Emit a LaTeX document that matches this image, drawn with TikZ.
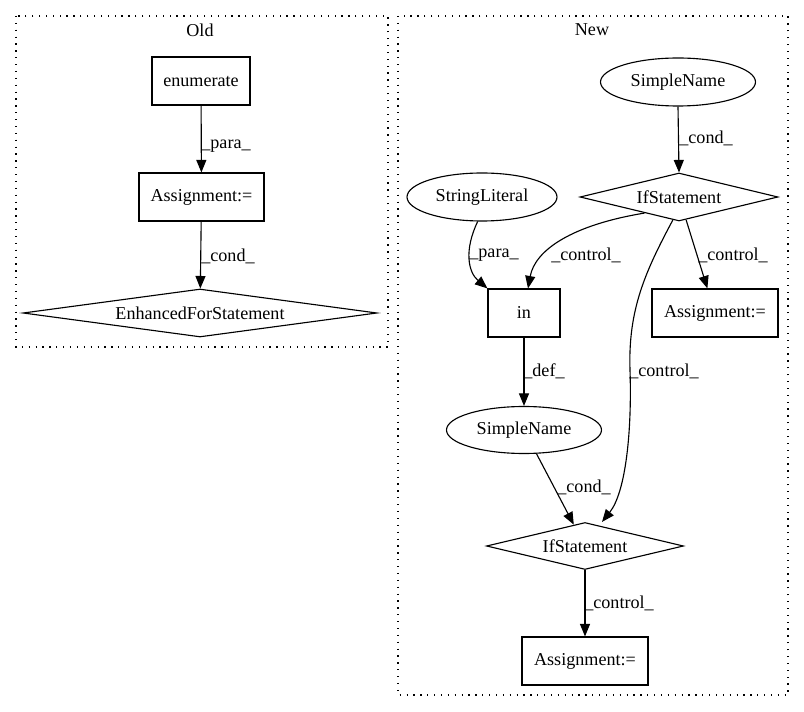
\documentclass[tikz,border=0pt]{standalone}
\usepackage{fontspec}
\setmainfont{Liberation Serif}
\usetikzlibrary{arrows.meta,shapes.geometric}
\def\pxu{0.8pt}
\tikzset{
  every node/.style={font=\fontsize{14.5}{16}\selectfont},
  boxnode/.style={draw, line width=0.9pt, inner sep=0pt, rectangle, minimum height=48*\pxu},
  ellnode/.style={draw, line width=0.9pt, inner sep=0pt, ellipse, minimum height=48*\pxu},
  dianode/.style={draw, line width=0.9pt, inner sep=0pt, diamond, minimum height=48*\pxu},
  edge/.style={line width=0.9pt, -{Triangle[length=10pt, width=8pt]}},
  cluster/.style={line width=0.9pt, dash pattern=on 1pt off 4.5pt},
  lbl/.style={inner sep=0pt}
}
\begin{document}
\begin{tikzpicture}[x=0.8pt, y=-0.8pt]
\useasboundingbox (0,0) rectangle (804,712);
% clusters
\draw[cluster] (16,16) rectangle (388,347);
\draw[cluster] (398,16) rectangle (788,695);
\node[lbl] (oldt) at (200,30) {Old};
\node[lbl] (newt) at (592,30) {New};
% Old nodes
\node[boxnode, minimum width=98*\pxu] (en) at (201,81) {enumerate};
\node[boxnode, minimum width=125*\pxu] (as1) at (201.5,197) {Assignment:=};
\node[dianode, aspect=7.375, minimum width=354*\pxu] (efs) at (200,313) {EnhancedForStatement};
% New nodes
\node[ellnode, minimum width=155*\pxu] (sn1) at (678,82) {SimpleName};
\node[dianode, aspect=4.125, minimum width=198*\pxu] (if1) at (679,197) {IfStatement};
\node[ellnode, minimum width=150*\pxu] (sl) at (482,197) {StringLiteral};
\node[boxnode, minimum width=72*\pxu] (in) at (524,313) {in};
\node[boxnode, minimum width=126*\pxu] (as2) at (715,313) {Assignment:=};
\node[ellnode, minimum width=155*\pxu, minimum height=47*\pxu] (sn2) at (524,430) {SimpleName};
\node[dianode, aspect=4.19, minimum width=197*\pxu, minimum height=47*\pxu] (if2) at (585,546) {IfStatement};
\node[boxnode, minimum width=126*\pxu] (as3) at (585,661) {Assignment:=};
% Old edges
\draw[edge] (en) -- (as1);
\draw[edge] (as1) -- (efs);
\node[lbl] (l1) at (226,146) {\_para\_};
\node[lbl] (l2) at (228,256) {\_cond\_};
% New edges
\draw[edge] (sn1.south) -- (if1.north);
\node[lbl] (l3) at (706,138) {\_cond\_};
\draw[edge] (sl.260) .. controls (464,250) and (468,272) .. (in.north west);
\node[lbl] (l4) at (494,255) {\_para\_};
\draw[edge] (if1.205) .. controls (572,225) and (535,250) .. ([xshift=4*\pxu]in.north);
\node[lbl] (l5) at (586,255) {\_control\_};
\draw[edge] (if1) -- (as2);
\node[lbl] (l6) at (733,255) {\_control\_};
\draw[edge] (if1.255) .. controls (645,272) and (628,310) .. (630,370) .. controls (632,430) and (626,492) .. ([xshift=17*\pxu]if2.north);
\node[lbl] (l7) at (664,371) {\_control\_};
\draw[edge] (in) -- (sn2);
\node[lbl] (l8) at (544,371) {\_def\_};
\draw[edge] (sn2) -- (if2);
\node[lbl] (l9) at (584,487) {\_cond\_};
\draw[edge] (if2) -- (as3);
\node[lbl] (l10) at (619,603) {\_control\_};
\end{tikzpicture}
\end{document}
